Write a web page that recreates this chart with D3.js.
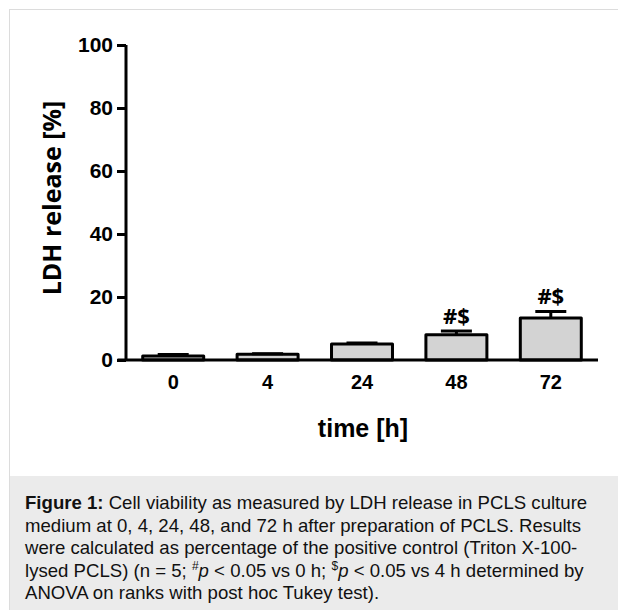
<!DOCTYPE html>
<html><head><meta charset="utf-8">
<script src="https://cdn.jsdelivr.net/npm/d3@7"></script>
<style>html,body{margin:0;padding:0;background:#fff;}svg{display:block;}</style>
</head><body>
<svg id="c" width="618" height="610"></svg>
<script>
const categories = ["0", "4", "24", "48", "72"];
const means = [1.3, 1.8, 5.1, 8.0, 13.3];
const errors = [0.45, 0.2, 0.3, 1.2, 2.1];
const annotations = ["", "", "", "#$", "#$"];
const yTicks = [0, 20, 40, 60, 80, 100];
const yTitle = "LDH release [%]";
const xTitle = "time [h]";
const captionLines = [
  [["Figure 1:", true, false], [" Cell viability as measured by LDH release in PCLS culture", false, false]],
  [["medium at 0, 4, 24, 48, and 72 h after preparation of PCLS. Results", false, false]],
  [["were calculated as percentage of the positive control (Triton X-100-", false, false]],
  [["lysed PCLS) (n = 5; ", false, false], ["#", false, "sup"], ["p", false, "it"], [" < 0.05 vs 0 h; ", false, false], ["$", false, "sup"], ["p", false, "it"], [" < 0.05 vs 4 h determined by", false, false]],
  [["ANOVA on ranks with post hoc Tukey test).", false, false]]
];

const svg = d3.select("#c");
// frame
svg.append("rect").attr("x", 9.5).attr("y", 9.5).attr("width", 620).attr("height", 610)
  .attr("fill", "#fff").attr("stroke", "#dcdcdc").attr("stroke-width", 1);
svg.append("rect").attr("x", 10).attr("y", 476).attr("width", 608).attr("height", 134).attr("fill", "#ebebeb");

const x = d3.scaleBand().domain(categories).range([126, 598]).paddingInner(0.354).paddingOuter(0.177);
const y = d3.scaleLinear().domain([0, 100]).range([360, 45]);

const g = svg.append("g");
// bars
g.selectAll("rect.bar").data(categories).join("rect").attr("class", "bar")
  .attr("x", d => x(d)).attr("width", x.bandwidth())
  .attr("y", (d, i) => y(means[i])).attr("height", (d, i) => y(0) - y(means[i]))
  .attr("fill", "#d3d3d3").attr("stroke", "#000").attr("stroke-width", 3).attr("stroke-linejoin", "round");
// error bars
const capW = 31;
categories.forEach((c, i) => {
  const cx = x(c) + x.bandwidth() / 2;
  g.append("line").attr("x1", cx).attr("x2", cx).attr("y1", y(means[i])).attr("y2", y(means[i] + errors[i]))
    .attr("stroke", "#000").attr("stroke-width", 3);
  g.append("line").attr("x1", cx - capW / 2).attr("x2", cx + capW / 2).attr("y1", y(means[i] + errors[i])).attr("y2", y(means[i] + errors[i]))
    .attr("stroke", "#000").attr("stroke-width", 3);
  if (annotations[i]) {
    g.append("text").attr("x", cx).attr("y", y(means[i] + errors[i]) - 7)
      .attr("text-anchor", "middle").attr("font-family", "'Open Sans', sans-serif").attr("font-weight", "bold")
      .attr("font-size", 22).text(annotations[i]);
  }
});

// y axis
const yAxis = d3.axisLeft(y).tickValues(yTicks).tickSize(9).tickPadding(4).tickFormat(d3.format("d"));
const ya = svg.append("g").attr("transform", "translate(126,0)").call(yAxis);
ya.select(".domain").attr("stroke-width", 3).attr("d", `M0,${y(100)}V${y(0)}`);
ya.selectAll(".tick line").attr("stroke-width", 3);
ya.selectAll(".tick text").attr("font-family", "'Liberation Sans', Arial, sans-serif").attr("font-weight", "bold").attr("font-size", 21).attr("fill", "#000");

// x axis
const xAxis = d3.axisBottom(x).tickSize(0).tickPadding(15);
const xa = svg.append("g").attr("transform", `translate(0,${y(0)})`).call(xAxis);
xa.select(".domain").attr("stroke-width", 3).attr("d", "M117.5,0H598");
xa.selectAll(".tick text").attr("font-family", "'Liberation Sans', Arial, sans-serif").attr("font-weight", "bold").attr("font-size", 20).attr("fill", "#000");

// titles
svg.append("text").attr("x", 363).attr("y", 437).attr("text-anchor", "middle")
  .attr("font-family", "'Liberation Sans', Arial, sans-serif").attr("font-weight", "bold").attr("font-size", 25).text(xTitle);
svg.append("text").attr("transform", "translate(61,198) rotate(-90)").attr("text-anchor", "middle")
  .attr("font-family", "'Open Sans', sans-serif").attr("font-weight", "bold").attr("font-size", 25).text(yTitle);

// caption
const cap = svg.append("g").attr("font-family", "'Liberation Sans', Arial, sans-serif").attr("font-size", 18.6).attr("fill", "#111");
captionLines.forEach((line, li) => {
  const t = cap.append("text").attr("x", 25).attr("y", 509 + li * 22.6);
  line.forEach(([s, bold, style]) => {
    const ts = t.append("tspan").text(s);
    if (bold) ts.attr("font-weight", "bold");
    if (style === "it") ts.attr("font-style", "italic");
    if (style === "sup") ts.attr("baseline-shift", "super").attr("font-size", 12);
  });
});
</script>
</body></html>
